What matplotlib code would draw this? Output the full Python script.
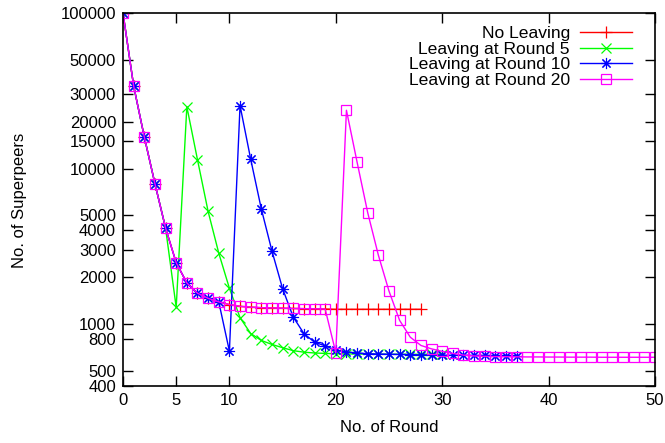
import matplotlib
matplotlib.use("Agg")
import matplotlib.pyplot as plt

plt.rcParams['font.family'] = ['Liberation Sans', 'DejaVu Sans']

# ---- data ----
rounds_no_leave = list(range(0, 29))
no_leaving = [100000, 34000, 16000, 8000, 4150, 2480, 1840, 1580, 1465, 1390,
              1335, 1300, 1285, 1275, 1270, 1265, 1260, 1257, 1254, 1250,
              1245, 1245, 1245, 1245, 1245, 1245, 1245, 1245, 1245]

rounds_r5 = list(range(0, 31))
leave_r5 = [100000, 34000, 16000, 8000, 4150, 1280, 25000, 11400, 5300, 2860,
            1700, 1100, 870, 785, 740, 705, 675, 660, 652, 648,
            645, 643, 642, 641, 640, 640, 640, 640, 640, 640, 640]

rounds_r10 = list(range(0, 38))
leave_r10 = [100000, 34000, 16000, 8000, 4150, 2480, 1840, 1580, 1465, 1390,
             670, 25400, 11500, 5500, 2950, 1690, 1110, 870, 765, 725,
             680, 662, 653, 645, 642, 640, 638, 636, 634, 632,
             631, 630, 630, 629, 629, 628, 628, 628]

rounds_r20 = list(range(0, 51))
leave_r20 = [100000, 34000, 16000, 8000, 4150, 2480, 1840, 1580, 1465, 1390,
             1335, 1300, 1285, 1275, 1270, 1265, 1260, 1257, 1254, 1250,
             655, 23700, 11000, 5200, 2775, 1630, 1056, 824, 729, 693,
             668, 648, 632, 624, 620, 618, 617, 616, 615, 615,
             614, 614, 613, 613, 613, 612, 612, 612, 612, 612, 612]

labels = ["No Leaving", "Leaving at Round 5", "Leaving at Round 10", "Leaving at Round 20"]
xticks = [0, 5, 10, 20, 30, 40, 50]
yticks = [400, 500, 800, 1000, 2000, 3000, 4000, 5000, 10000, 15000, 20000, 30000, 50000, 100000]

fig = plt.figure(figsize=(6.65, 4.43), dpi=100)
ax = fig.add_axes([123 / 665, 57 / 443, 532 / 665, 373 / 443])

ax.plot(rounds_no_leave, no_leaving, color="#ff0000", lw=1, marker="+", ms=8, mew=0.9,
        label=labels[0])
ax.plot(rounds_r5, leave_r5, color="#00ff00", lw=1, marker="x", ms=6.5, mew=0.9,
        label=labels[1])
ax.plot(rounds_r10, leave_r10, color="#0000ff", lw=1, marker=(8, 2, 0), ms=8, mew=0.8,
        label=labels[2])
ax.plot(rounds_r20, leave_r20, color="#ff00ff", lw=1, marker="s", ms=6.5, mew=0.9,
        mfc="none", label=labels[3])

ax.set_yscale("log")
ax.set_xlim(0, 50)
ax.set_ylim(400, 100000)
ax.set_xticks(xticks)
ax.set_xticklabels([str(t) for t in xticks])
ax.set_yticks(yticks)
ax.set_yticklabels([str(t) for t in yticks])
ax.minorticks_off()
ax.tick_params(direction="in", length=7, width=1, top=True, right=True,
               labelsize=12, pad=5)
for s in ax.spines.values():
    s.set_linewidth(1.2)

fig.text(20 / 665, 1 - 200 / 443, "No. of Superpeers", rotation=90,
         ha="center", va="center", fontsize=12)
fig.text(389 / 665, 1 - 428 / 443, "No. of Round", ha="center", va="center", fontsize=12)

ax.legend(loc="upper right", bbox_to_anchor=(632 / 665, 1 - 26 / 443),
          bbox_transform=fig.transFigure, frameon=False, markerfirst=False,
          fontsize=12.6, handlelength=3.0, handletextpad=0.55, labelspacing=0.02,
          borderpad=0, borderaxespad=0, numpoints=1)

fig.savefig("out.png", dpi=100)
